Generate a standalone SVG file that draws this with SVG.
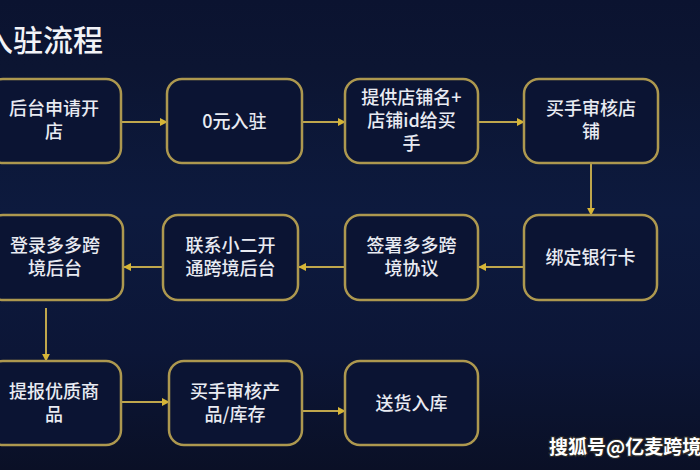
<svg xmlns="http://www.w3.org/2000/svg" width="700" height="470" viewBox="0 0 700 470">
<defs>
<linearGradient id="bg" x1="0" y1="0" x2="0" y2="1">
<stop offset="0" stop-color="#0b1330"/>
<stop offset="0.14" stop-color="#0c1532"/>
<stop offset="0.45" stop-color="#0d1a3e"/>
<stop offset="0.75" stop-color="#0c1637"/>
<stop offset="1" stop-color="#0a1026"/>
</linearGradient>
<marker id="ah" viewBox="0 0 10 10" refX="9" refY="5" markerWidth="4" markerHeight="4" orient="auto" markerUnits="strokeWidth">
<path d="M0,0 L10,5 L0,10 z" fill="#d6b537"/>
</marker>
<style>
.box{fill:#0b1433;stroke:#ad984f;stroke-width:2.5}
.t{font-family:"Noto Sans CJK SC","Noto Sans",sans-serif;font-size:18px;font-weight:500;fill:#e9ebf2;text-anchor:middle}
.c{fill:none;stroke:#bfa64c;stroke-width:2;marker-end:url(#ah)}
</style>
</defs>
<rect width="700" height="470" fill="url(#bg)"/>
<text x="-17" y="51" font-family="Noto Sans CJK SC, sans-serif" font-size="30" font-weight="500" fill="#f2f3f7">入驻流程</text>

<g id="connectors">
<line class="c" x1="122" y1="122" x2="167" y2="122"/>
<line class="c" x1="303" y1="122" x2="345" y2="122"/>
<line class="c" x1="479" y1="122" x2="524" y2="122"/>
<line class="c" x1="591" y1="164" x2="591" y2="215"/>
<line class="c" x1="524" y1="267" x2="479" y2="267"/>
<line class="c" x1="345" y1="267" x2="299" y2="267"/>
<line class="c" x1="163" y1="267" x2="124" y2="267"/>
<line class="c" x1="46" y1="308" x2="46" y2="361"/>
<line class="c" x1="122" y1="402" x2="169" y2="402"/>
<line class="c" x1="303" y1="411" x2="345" y2="411"/>
</g>

<g id="n1"><rect class="box" x="-12" y="79" width="133" height="84" rx="15"/>
<text class="t" x="54" y="115">后台申请开<tspan x="54" dy="23">店</tspan></text></g>
<g id="n2"><rect class="box" x="167" y="79" width="135" height="84" rx="15"/>
<text class="t" x="234.5" y="128">0元入驻</text></g>
<g id="n3"><rect class="box" x="345" y="79" width="133" height="84" rx="15"/>
<text class="t" x="411.5" y="104">提供店铺名+<tspan x="411.5" dy="23">店铺id给买</tspan><tspan x="411.5" dy="23">手</tspan></text></g>
<g id="n4"><rect class="box" x="524" y="79" width="134" height="84" rx="15"/>
<text class="t" x="591" y="115">买手审核店<tspan x="591" dy="23">铺</tspan></text></g>

<g id="n5"><rect class="box" x="524" y="215" width="133" height="85" rx="15"/>
<text class="t" x="590.5" y="264">绑定银行卡</text></g>
<g id="n6"><rect class="box" x="345" y="215" width="133" height="85" rx="15"/>
<text class="t" x="411.5" y="252">签署多多跨<tspan x="411.5" dy="23">境协议</tspan></text></g>
<g id="n7"><rect class="box" x="163" y="215" width="135" height="85" rx="15"/>
<text class="t" x="230.5" y="252">联系小二开<tspan x="230.5" dy="23">通跨境后台</tspan></text></g>
<g id="n8"><rect class="box" x="-12" y="215" width="135" height="85" rx="15"/>
<text class="t" x="55" y="252">登录多多跨<tspan x="55" dy="23">境后台</tspan></text></g>

<g id="n9"><rect class="box" x="-12" y="361" width="133" height="84" rx="15"/>
<text class="t" x="54" y="398">提报优质商<tspan x="54" dy="23">品</tspan></text></g>
<g id="n10"><rect class="box" x="169" y="361" width="133" height="84" rx="15"/>
<text class="t" x="235" y="398">买手审核产<tspan x="235" dy="23">品/库存</tspan></text></g>
<g id="n11"><rect class="box" x="345" y="361" width="133" height="84" rx="15"/>
<text class="t" x="411.5" y="410">送货入库</text></g>

<text x="549" y="454" font-family="Noto Sans CJK SC, sans-serif" font-size="19" font-weight="700" fill="#ffffff" stroke="#2a2a2a" stroke-width="2.5" paint-order="stroke">搜狐号@亿麦跨境</text>
</svg>
